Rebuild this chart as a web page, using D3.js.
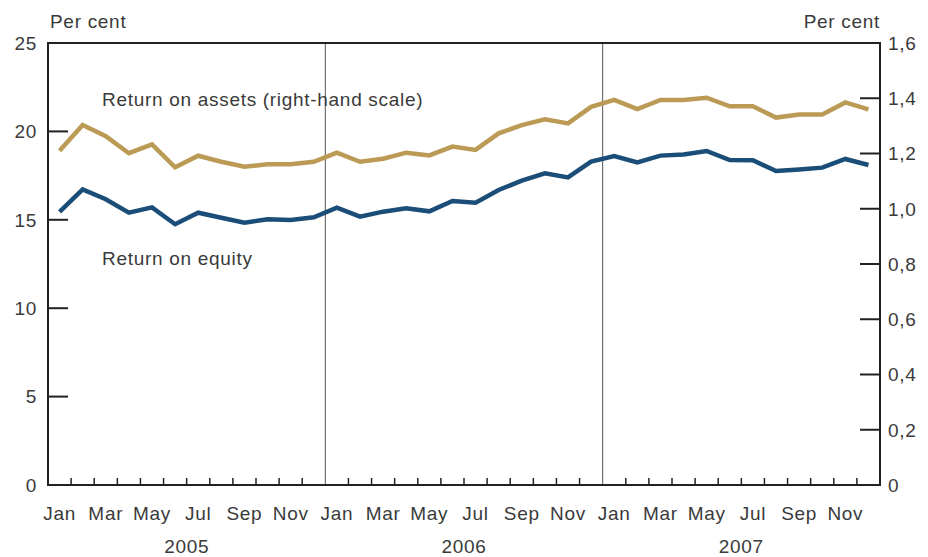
<!DOCTYPE html>
<html><head><meta charset="utf-8">
<script src="https://cdn.jsdelivr.net/npm/d3@7"></script>
<style>
body{margin:0;background:#fff;}
text{font-family:"Liberation Sans",Arial,sans-serif;fill:#3a3a3a;letter-spacing:0.7px;}
</style></head>
<body><svg id="c" width="928" height="557"></svg>
<script>
const years = ["2005","2006","2007"];
const monthNames = ["Jan","Feb","Mar","Apr","May","Jun","Jul","Aug","Sep","Oct","Nov","Dec"];
const monthLabels = ["Jan","Mar","May","Jul","Sep","Nov"];
const returnOnEquity = [15.45,16.72,16.16,15.4,15.7,14.75,15.4,15.12,14.84,15.03,14.99,15.14,
  15.69,15.18,15.46,15.65,15.48,16.06,15.97,16.69,17.21,17.63,17.40,18.29,
  18.61,18.25,18.63,18.70,18.89,18.38,18.37,17.76,17.85,17.95,18.44,18.10];
const returnOnAssets = [1.210,1.303,1.263,1.201,1.233,1.150,1.192,1.170,1.152,1.161,1.161,1.170,
  1.203,1.170,1.181,1.203,1.193,1.225,1.213,1.273,1.303,1.324,1.309,1.369,
  1.394,1.361,1.394,1.394,1.402,1.371,1.371,1.330,1.341,1.341,1.385,1.360];
const leftTicks = [0,5,10,15,20,25];
const rightTicks = [0,0.2,0.4,0.6,0.8,1.0,1.2,1.4,1.6];

const svg = d3.select("#c");
const L=48, R=880, T=43, B=485;
const n = returnOnEquity.length;
const x = d3.scaleLinear().domain([0,n]).range([L,R]);
const yL = d3.scaleLinear().domain([0,25]).range([B,T]);
const yR = d3.scaleLinear().domain([0,1.6]).range([B,T]);
const fs = 19;

const g = svg.append("g");
d3.range(1,n).forEach(i=>{
  if(i%12===0){
    g.append("line").attr("x1",x(i)).attr("x2",x(i)).attr("y1",T).attr("y2",B)
      .attr("stroke","#555").attr("stroke-width",1);
  } else {
    g.append("line").attr("x1",x(i)).attr("x2",x(i)).attr("y1",B).attr("y2",B-7)
      .attr("stroke","#222").attr("stroke-width",1.5);
  }
});
leftTicks.forEach(v=>{
  if(v>0 && v<25) g.append("line").attr("x1",L).attr("x2",L+20).attr("y1",yL(v)).attr("y2",yL(v)).attr("stroke","#222").attr("stroke-width",2);
  svg.append("text").attr("x",37).attr("y",yL(v)).attr("dy","0.36em").attr("text-anchor","end")
    .attr("font-size",fs).text(v);
});
rightTicks.forEach(v=>{
  if(v>0 && v<1.6) g.append("line").attr("x1",R-20).attr("x2",R).attr("y1",yR(v)).attr("y2",yR(v)).attr("stroke","#222").attr("stroke-width",2);
  svg.append("text").attr("x",888).attr("y",yR(v)).attr("dy","0.36em").attr("text-anchor","start")
    .attr("font-size",fs).text(d3.format(".1f")(v).replace(".",",").replace(/^0,0$/,"0"));
});
svg.append("rect").attr("x",L).attr("y",T).attr("width",R-L).attr("height",B-T)
  .attr("fill","none").attr("stroke","#222").attr("stroke-width",2);

const lineE = d3.line().x((d,i)=>x(i+0.5)).y(d=>yL(d));
const lineA = d3.line().x((d,i)=>x(i+0.5)).y(d=>yR(d));
svg.append("path").datum(returnOnAssets).attr("d",lineA).attr("fill","none")
  .attr("stroke","#bb9a55").attr("stroke-width",4.5).attr("stroke-linejoin","miter");
svg.append("path").datum(returnOnEquity).attr("d",lineE).attr("fill","none")
  .attr("stroke","#1a4e78").attr("stroke-width",4.5).attr("stroke-linejoin","miter");

d3.range(n).forEach(i=>{
  const m = monthNames[i%12];
  if(monthLabels.includes(m)){
    svg.append("text").attr("x",x(i+0.5)).attr("y",520).attr("text-anchor","middle").attr("font-size",fs).text(m);
  }
});
years.forEach((yv,k)=>{
  svg.append("text").attr("x",x(k*12+6)).attr("y",553).attr("text-anchor","middle").attr("font-size",fs).text(yv);
});
svg.append("text").attr("x",50).attr("y",28).attr("font-size",fs).text("Per cent");
svg.append("text").attr("x",880).attr("y",28).attr("text-anchor","end").attr("font-size",fs).text("Per cent");
svg.append("text").attr("x",102).attr("y",106).attr("font-size",fs).text("Return on assets (right-hand scale)");
svg.append("text").attr("x",102).attr("y",265).attr("font-size",fs).text("Return on equity");
</script></body></html>
